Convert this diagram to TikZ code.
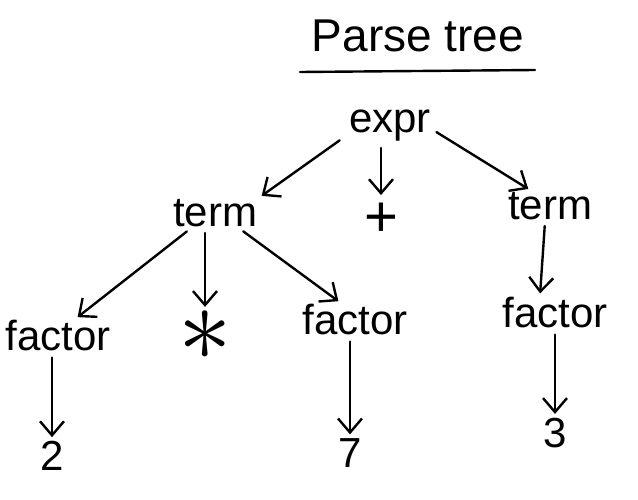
\documentclass[tikz,border=0pt]{standalone}
\usepackage{fontspec}
\setmainfont{Liberation Sans}
\usetikzlibrary{arrows.meta, positioning}

\begin{document}
\begin{tikzpicture}[x=1pt, y=-1pt,
    sym/.style={font=\fontsize{42}{46}\selectfont, inner sep=2pt},
    link/.style={-{Straight Barb[length=14pt, width=24pt, line width=2.4pt]},
      line width=2.4pt, line cap=round, shorten <=4pt, shorten >=2pt}]
  \useasboundingbox (0,0) rectangle (638,500);

  % title
  \node[font=\fontsize{46}{50}\selectfont, inner sep=0pt] (title) at (418,36) {Parse tree};
  \coordinate (ulL) at (300,72);
  \coordinate (ulR) at (535,70);
  \draw[line width=2.4pt, line cap=round] (ulL) -- (ulR);

  %---- nodes ----
  \node[sym] (expr) at (390,126) {expr};
  \node[sym] (termL) at (215,213) {term};
  \node[sym, font=\fontsize{58}{60}\selectfont] (plus) at (381,220) {+};
  \node[sym] (termR) at (550,206) {term};
  \node[sym] (factL) at (58,336) {factor};
  \node[sym] (star) at (205,336) {\scalebox{4.3}{$\ast$}};
  \node[sym] (factM) at (355,320) {factor};
  \node[sym] (factR) at (555,313) {factor};
  \node[sym] (two) at (52,456) {2};
  \node[sym] (seven) at (350,453) {7};
  \node[sym] (three) at (555,433) {3};

  %---- edges ----
  \draw[link] ([shift={(-4pt,-12pt)}]expr.west) -- ([xshift=45pt]termL.north);
  \draw[link] (expr.south -| plus) -- ([yshift=4pt]plus.north);
  \draw[link] ([shift={(0pt,-4pt)}]expr.east) -- ([xshift=-20pt]termR.north);
  \draw[link] ([xshift=-25pt]termL.south) -- ([xshift=18pt]factL.north);
  \draw[link] (termL.south -| star) -- (star.north);
  \draw[link] ([xshift=25pt]termL.south) -- ([xshift=-15pt]factM.north);
  \draw[link] ([xshift=-5pt]termR.south) -- ([xshift=-15pt]factR.north);
  \draw[link] (factL.south -| two) -- (two.north);
  \draw[link] (factM.south -| seven) -- (seven.north);
  \draw[link] (factR.south) -- (three.north);
\end{tikzpicture}
\end{document}
